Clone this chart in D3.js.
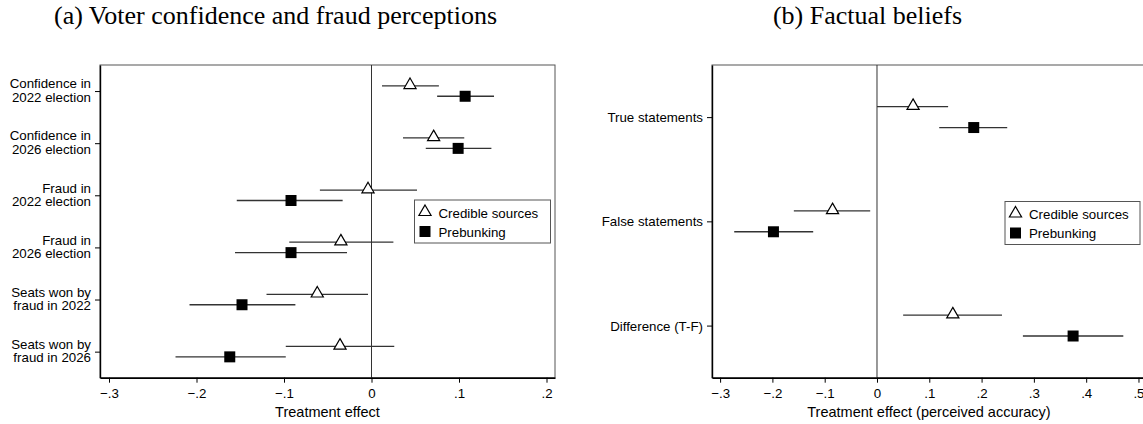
<!DOCTYPE html>
<html>
<head>
<meta charset="utf-8">
<script src="https://cdn.jsdelivr.net/npm/d3@7/dist/d3.min.js"></script>
<style>
body { margin: 0; background: #fff; }
svg text { font-family: "Liberation Sans", Arial, Helvetica, sans-serif; fill: #000; }
svg text.ptitle { font-family: "Liberation Serif", "Times New Roman", serif; }
</style>
</head>
<body>
<script>
// panel (a) outcomes, one entry per line of the label
var catsA = [["Confidence in", "2022 election"], ["Confidence in", "2026 election"],
             ["Fraud in", "2022 election"], ["Fraud in", "2026 election"],
             ["Seats won by", "fraud in 2022"], ["Seats won by", "fraud in 2026"]];
var credEstA = [0.044, 0.071, -0.004, -0.035, -0.062, -0.036];
var credLoA  = [0.012, 0.036, -0.059, -0.094, -0.120, -0.098];
var credHiA  = [0.077, 0.106, 0.052, 0.025, -0.004, 0.026];
var preEstA  = [0.107, 0.099, -0.092, -0.092, -0.148, -0.162];
var preLoA   = [0.075, 0.062, -0.154, -0.156, -0.208, -0.224];
var preHiA   = [0.140, 0.137, -0.033, -0.028, -0.087, -0.098];
var ticksA   = [-0.3, -0.2, -0.1, 0, 0.1, 0.2];

// panel (b) outcomes
var catsB = [["True statements"], ["False statements"], ["Difference (T-F)"]];
var credEstB = [0.069, -0.085, 0.145];
var credLoB  = [0.000, -0.159, 0.050];
var credHiB  = [0.136, -0.013, 0.239];
var preEstB  = [0.185, -0.198, 0.375];
var preLoB   = [0.119, -0.273, 0.279];
var preHiB   = [0.249, -0.122, 0.471];
var ticksB   = [-0.3, -0.2, -0.1, 0, 0.1, 0.2, 0.3, 0.4, 0.5];

var seriesNames = ["Credible sources", "Prebunking"];

var width = 1143, height = 424;
var plotTop = 65, plotBottom = 377.7;

var svg = d3.select("body").append("svg")
    .attr("width", width)
    .attr("height", height);

//stata style tick labels: -.3, 0, .1
function fmt(v){
    var s = d3.format(".1f")(v);
    if (s == "0.0" || s == "-0.0") return "0";
    return s.replace("0.", ".");
}

var tri = d3.symbol(d3.symbolTriangle, 64)();
var sq = d3.symbol(d3.symbolSquare, 121)();

function panel(p){
    var x = d3.scaleLinear().domain(p.xdom).range([p.left, p.right]);
    var y = d3.scalePoint().domain(d3.range(p.cats.length))
        .range([plotTop, plotBottom]).padding(0.5);
    var off = y.step() * 0.1;

    var g = svg.append("g");

    // plot region border (top/right)
    g.append("rect")
        .attr("x", p.left).attr("y", plotTop)
        .attr("width", p.right - p.left).attr("height", plotBottom - plotTop)
        .attr("fill", "none").attr("stroke", "#555").attr("stroke-width", 1);

    // zero line
    g.append("line")
        .attr("x1", x(0)).attr("x2", x(0))
        .attr("y1", plotTop).attr("y2", plotBottom)
        .attr("stroke", "#333").attr("stroke-width", 1);

    // x axis
    var xa = g.append("g")
        .attr("transform", "translate(0," + plotBottom + ")")
        .call(d3.axisBottom(x).tickValues(p.ticks).tickFormat(fmt).tickSize(5).tickSizeOuter(0));
    xa.select(".domain").attr("stroke", "#000").attr("stroke-width", 1.4);
    xa.selectAll(".tick line").attr("stroke", "#000").attr("stroke-width", 1);
    xa.selectAll(".tick text").attr("font-size", "13.3px").attr("dy", null).attr("y", 20);

    // y axis
    var ya = g.append("g")
        .attr("transform", "translate(" + p.left + ",0)")
        .call(d3.axisLeft(y).tickSize(5).tickSizeOuter(0).tickFormat(""));
    ya.select(".domain").attr("stroke", "#000").attr("stroke-width", 1.4);
    ya.selectAll(".tick line").attr("stroke", "#000").attr("stroke-width", 1);

    // category labels (can be two lines)
    var lab = g.append("g").selectAll("text")
        .data(p.cats).enter().append("text")
        .attr("text-anchor", "end")
        .attr("font-size", "13.3px")
        .attr("x", p.left - 9)
        .attr("y", function(d, i){ return y(i) + (d.length > 1 ? -2.7 : 5); });
    lab.each(function(d){
        var t = d3.select(this);
        d.forEach(function(line, k){
            t.append("tspan").attr("x", p.left - 9).attr("dy", k == 0 ? 0 : 13.4).text(line);
        });
    });

    // build rows from the series arrays
    var rows = [];
    p.cats.forEach(function(c, i){
        rows.push({s: 0, i: i, est: p.credEst[i], lo: p.credLo[i], hi: p.credHi[i]});
        rows.push({s: 1, i: i, est: p.preEst[i], lo: p.preLo[i], hi: p.preHi[i]});
    });
    function ry(d){ return y(d.i) + (d.s == 0 ? -off : off); }

    g.append("g").selectAll("line")
        .data(rows).enter().append("line")
        .attr("x1", function(d){ return x(d.lo); })
        .attr("x2", function(d){ return x(d.hi); })
        .attr("y1", ry).attr("y2", ry)
        .attr("stroke", "#333").attr("stroke-width", 1.3);

    g.append("g").selectAll("path")
        .data(rows).enter().append("path")
        .attr("d", function(d){ return d.s == 0 ? tri : sq; })
        .attr("transform", function(d){ return "translate(" + x(d.est) + "," + (ry(d) + (d.s == 0 ? -0.8 : 0)) + ")"; })
        .attr("fill", function(d){ return d.s == 0 ? "#fff" : "#000"; })
        .attr("stroke", "#000")
        .attr("stroke-width", function(d){ return d.s == 0 ? 1.2 : 0; });

    // axis title
    g.append("text")
        .attr("x", (p.left + Math.min(p.right, width)) / 2 + p.titleShift)
        .attr("y", 417)
        .attr("text-anchor", "middle")
        .attr("font-size", "14.5px")
        .text(p.xtitle);

    // legend
    var lg = g.append("g").attr("transform", "translate(" + p.legX + "," + p.legY + ")");
    lg.append("rect")
        .attr("width", p.legW).attr("height", 43)
        .attr("fill", "#fff").attr("stroke", "#555").attr("stroke-width", 1);
    seriesNames.forEach(function(n, k){
        lg.append("path")
            .attr("d", k == 0 ? tri : sq)
            .attr("transform", "translate(10.5," + (k == 0 ? 12 : 31.5) + ")")
            .attr("fill", k == 0 ? "#fff" : "#000")
            .attr("stroke", "#000").attr("stroke-width", k == 0 ? 1.2 : 0);
        lg.append("text")
            .attr("x", 24).attr("y", k == 0 ? 17.5 : 36.5)
            .attr("font-size", "13.3px")
            .text(n);
    });

    // panel title
    svg.append("text")
        .attr("class", "ptitle")
        .attr("x", p.tx).attr("y", 24)
        .attr("text-anchor", "middle")
        .attr("font-size", "26px")
        .text(p.title);
}

panel({
    title: "(a) Voter confidence and fraud perceptions", tx: 275.5,
    left: 100, right: 555, xdom: [-0.3103, 0.2097], ticks: ticksA,
    cats: catsA, credEst: credEstA, credLo: credLoA, credHi: credHiA,
    preEst: preEstA, preLo: preLoA, preHi: preHiA,
    xtitle: "Treatment effect", titleShift: 0,
    legX: 414.5, legY: 200, legW: 136
});

panel({
    title: "(b) Factual beliefs", tx: 867.5,
    left: 712, right: 1146, xdom: [-0.3155, 0.5144], ticks: ticksB,
    cats: catsB, credEst: credEstB, credLo: credLoB, credHi: credHiB,
    preEst: preEstB, preLo: preLoB, preHi: preHiB,
    xtitle: "Treatment effect (perceived accuracy)", titleShift: 1.5,
    legX: 1005, legY: 201.5, legW: 135
});
</script>
</body>
</html>
